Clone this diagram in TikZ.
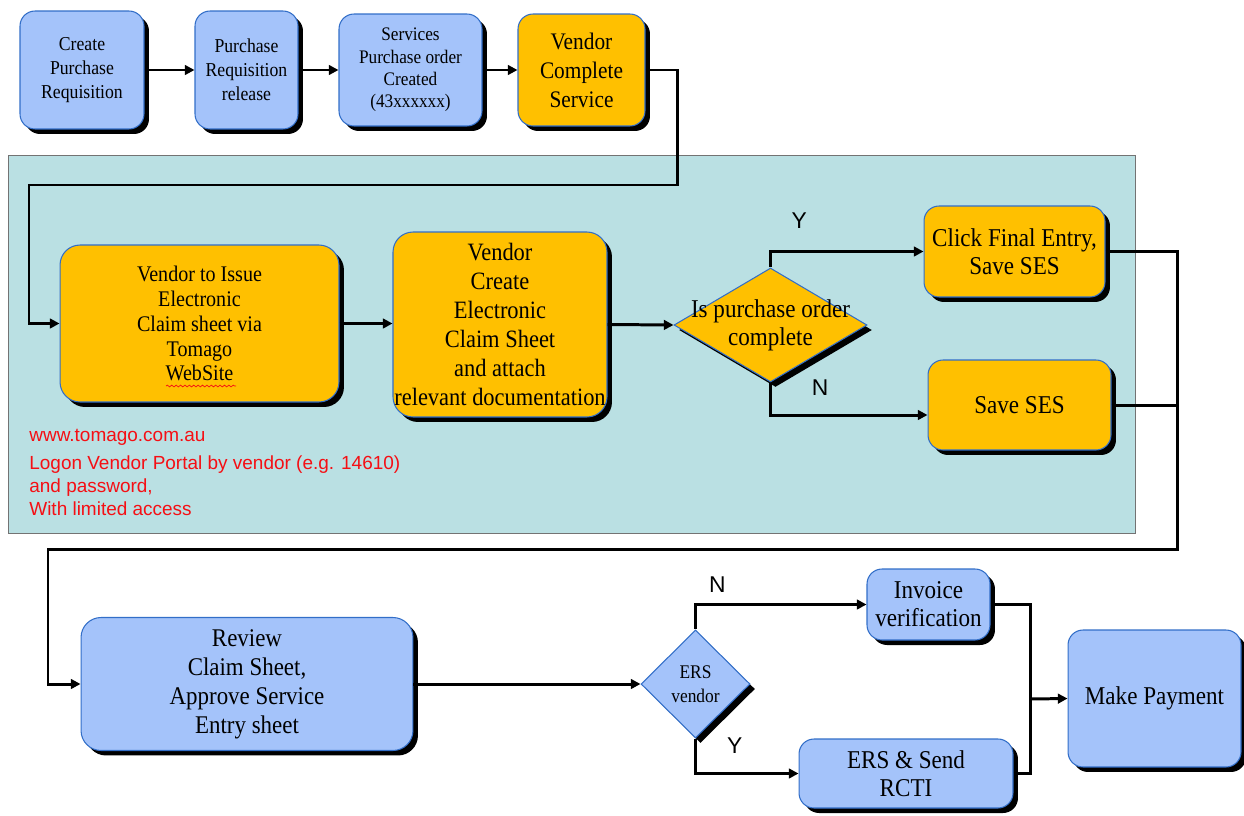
\documentclass[tikz,border=0pt]{standalone}
\usepackage{fontspec}
\setmainfont[FakeStretch=0.9]{Liberation Serif}
\newfontfamily\arialfont{Liberation Sans}
\usepackage{xcolor}
\usetikzlibrary{arrows.meta, positioning, shapes.geometric, calc, shadows, decorations.pathmorphing}
\definecolor{tmgBlue}{RGB}{164,195,250}
\definecolor{tmgEdge}{RGB}{50,110,200}
\definecolor{tmgOrange}{RGB}{255,192,0}
\definecolor{tmgTeal}{RGB}{186,224,227}
\definecolor{tmgRed}{RGB}{245,15,20}

\begin{document}
\begin{tikzpicture}[x=0.02cm, y=-0.02cm,
    boxshadow/.style={drop shadow={shadow xshift=0.1cm, shadow yshift=-0.1cm, fill=black, opacity=1}},
    stepbox/.style={rectangle, rounded corners=0.3cm, draw=tmgEdge, line width=0.6pt,
        align=center, inner sep=1pt, boxshadow},
    sapbox/.style={stepbox, fill=tmgBlue},
    vendbox/.style={stepbox, fill=tmgOrange},
    decision/.style={diamond, draw=tmgEdge, line width=0.6pt, inner sep=0pt, boxshadow},
    flow/.style={-{Triangle[length=5.5pt, width=5.5pt]}, line width=1.7pt},
    link/.style={line width=1.7pt},
    answer/.style={font=\arialfont\fontsize{13}{13}\selectfont},
    note/.style={font=\arialfont\fontsize{10.8}{13}\selectfont, text=tmgRed, align=left, inner sep=0pt}
]
\useasboundingbox (0,0) rectangle (1244,815);

% requisition and order
\node[sapbox, minimum width=2.48cm, minimum height=2.36cm, font=\fontsize{11.2}{13.7}\selectfont]
    (createpr) at (82,70) {Create\\Purchase\\Requisition};
\node[sapbox, minimum width=2.06cm, minimum height=2.36cm, font=\fontsize{11.2}{13.7}\selectfont]
    (prrelease) at (246.5,70) {Purchase\\Requisition\\release};
\node[sapbox, minimum width=2.86cm, minimum height=2.24cm, font=\fontsize{10.9}{12.7}\selectfont]
    (svcpo) at (410.5,70) {Services\\Purchase order\\Created\\(43xxxxxx)};
\node[vendbox, minimum width=2.54cm, minimum height=2.24cm, font=\fontsize{13.5}{16.5}\selectfont]
    (vcomplete) at (581.5,70) {Vendor\\Complete\\Service};

% vendor portal area
\draw[draw=black!55, fill=tmgTeal] (8,155) rectangle (1135,533);

\node[vendbox, rounded corners=0.4cm, minimum width=5.58cm, minimum height=3.14cm,
    font=\fontsize{12.7}{14.2}\selectfont]
    (issue) at (199.5,323.5) {Vendor to Issue\\Electronic\\Claim sheet via\\Tomago\\WebSite};
\node[vendbox, rounded corners=0.4cm, inner sep=0pt, minimum width=4.28cm, minimum height=3.7cm,
    font=\fontsize{14.2}{16.5}\selectfont]
    (claim) at (500,324.5) {Vendor\\Create\\Electronic\\Claim Sheet\\and attach\\relevant documentation};
\node[decision, fill=tmgOrange, minimum width=3.86cm, minimum height=2.28cm] (pocheck) at (770.5,325) {};
\node[font=\fontsize{14.6}{16}\selectfont, align=center] (pochecktext) at (pocheck) {Is purchase order\\complete};
\node[vendbox, minimum width=3.62cm, minimum height=1.82cm, font=\fontsize{14.6}{16}\selectfont]
    (finalentry) at (1014.5,251.5) {Click Final Entry,\\Save SES};
\node[vendbox, minimum width=3.66cm, minimum height=1.8cm, font=\fontsize{14.6}{16}\selectfont]
    (saveses) at (1019.5,405) {Save SES};
\node[note, anchor=north west] (portal) at (29,429)
    {www.tomago.com.au\\[3pt]Logon Vendor Portal by vendor (e.g. 14610)\\and password,\\With limited access};
\draw[tmgRed, line width=0.4pt, decorate, decoration={snake, amplitude=0.5pt, segment length=2.5pt}]
    (166,386) -- (236,386);

% review and payment
\node[sapbox, rounded corners=0.4cm, minimum width=6.64cm, minimum height=2.66cm,
    font=\fontsize{14.5}{16.5}\selectfont]
    (review) at (247,684) {Review\\Claim Sheet,\\Approve Service\\Entry sheet};
\node[decision, fill=tmgBlue, minimum width=2.18cm, minimum height=2.16cm] (ersq) at (695.5,684) {};
\node[font=\fontsize{11}{13.7}\selectfont, align=center] (ersqtext) at (ersq) {ERS\\vendor};
\node[sapbox, minimum width=2.46cm, minimum height=1.42cm, font=\fontsize{14.6}{16}\selectfont]
    (invoice) at (928.5,604.5) {Invoice\\verification};
\node[sapbox, minimum width=4.28cm, minimum height=1.38cm, font=\fontsize{14.6}{16}\selectfont]
    (rcti) at (906,773.5) {ERS \& Send\\RCTI};
\node[sapbox, minimum width=3.46cm, minimum height=2.74cm, font=\fontsize{14.6}{16}\selectfont]
    (payment) at (1154.5,698.5) {Make Payment};

% connectors
\draw[flow] (createpr) -- (prrelease);
\draw[flow] (prrelease) -- (svcpo);
\draw[flow] (svcpo) -- (vcomplete);
\coordinate (drop1) at (677,185);
\coordinate (drop2) at (29,185);
\draw[flow] (vcomplete.east) -| (drop1) -- (drop2) |- (issue.west);
\draw[flow] (issue.east) -- (issue.east -| claim.west);
\draw[flow] (claim.east) -- (pocheck.west);
\draw[flow] (pocheck.north) |- (finalentry.west) node[answer, pos=0.594, above=0.32cm] {Y};
\draw[flow] (pocheck.south) |- ($(saveses.west)+(0,10)$) node[answer, pos=0.658, above=0.24cm] {N};
\coordinate (merge1) at (1177,549);
\coordinate (merge2) at (48,549);
\draw[flow] (finalentry.east) -| (merge1) -- (merge2) |- (review.west);
\draw[link] (saveses.east) -- (saveses.east -| merge1);
\draw[flow] (review.east) -- (ersq.west);
\draw[flow] (ersq.north) |- (invoice.west) node[answer, pos=0.564, above=0.1cm] {N};
\draw[flow] (ersq.south) |- (rcti.west) node[answer, pos=0.69, above=0.26cm] {Y};
\coordinate (join) at (1030,699);
\draw[link] (invoice.east) -| (join);
\draw[link] (rcti.east) -| (join);
\draw[flow] (join) -- (payment.west);
\end{tikzpicture}
\end{document}
